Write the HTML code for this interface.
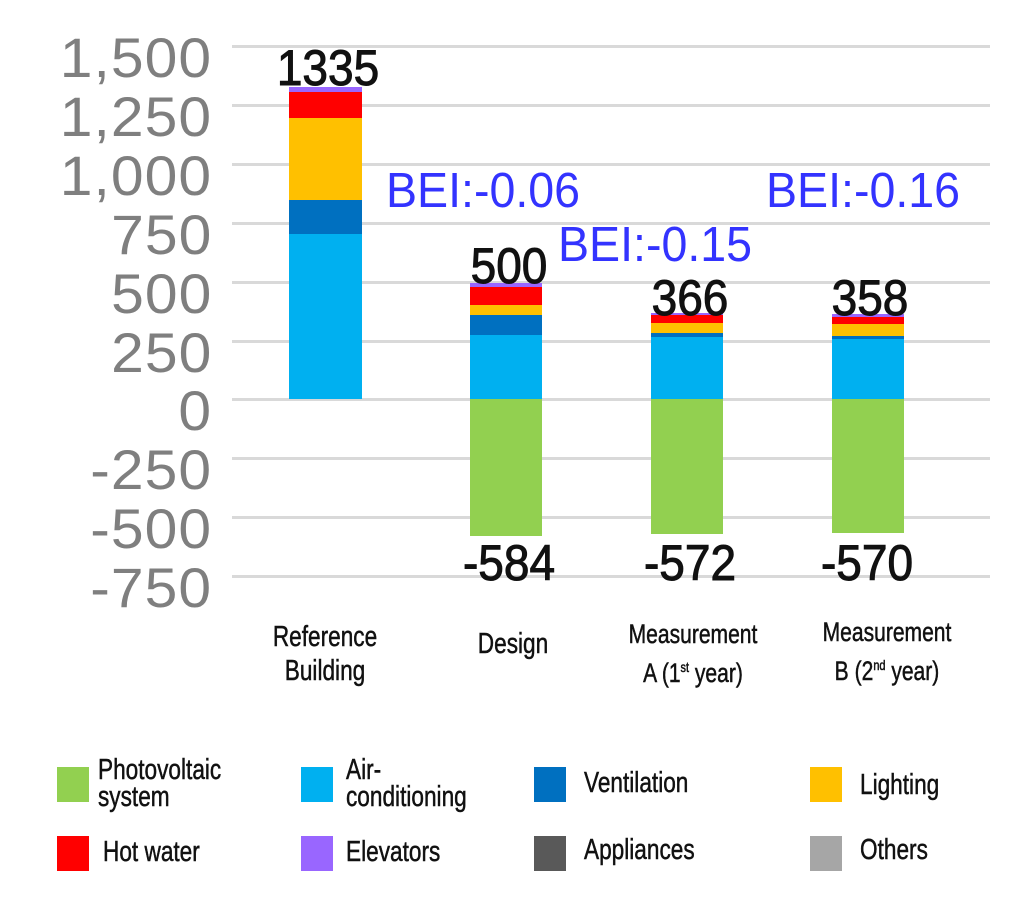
<!DOCTYPE html>
<html><head><meta charset="utf-8"><style>
body{margin:0;width:1024px;height:911px;background:#fff;position:relative;overflow:hidden;font-family:"Liberation Sans",sans-serif}
.g{position:absolute;left:232px;width:758px;height:3px;background:#d9d9d9}
.yl{position:absolute;right:812px;font-size:56px;color:#7f7f7f;line-height:1;letter-spacing:1px;transform:scaleX(1.05);transform-origin:right}
.r{position:absolute}
.v{position:absolute;font-size:50px;color:#111;width:140px;text-align:center;line-height:1;transform:scaleX(.92);-webkit-text-stroke:1px #111}
.bei{position:absolute;font-size:49px;color:#3333ff;line-height:1;transform:scaleX(.95);transform-origin:left}
.n{color:#111;position:absolute;font-size:29px;line-height:27px;transform:scaleX(.78);transform-origin:left top;white-space:nowrap;-webkit-text-stroke:.5px #111}
.c{text-align:center;width:230px;transform-origin:center top}
.sq{position:absolute;width:32px;height:35px}
</style></head><body>
<div class="g" style="top:45px"></div><div class="g" style="top:104px"></div><div class="g" style="top:163px"></div><div class="g" style="top:222px"></div><div class="g" style="top:281px"></div><div class="g" style="top:340px"></div><div class="g" style="top:398px"></div><div class="g" style="top:457px"></div><div class="g" style="top:516px"></div><div class="g" style="top:575px"></div>
<div class="yl" style="top:30px">1,500</div><div class="yl" style="top:89px">1,250</div><div class="yl" style="top:148px">1,000</div><div class="yl" style="top:207px">750</div><div class="yl" style="top:266px">500</div><div class="yl" style="top:325px">250</div><div class="yl" style="top:383px">0</div><div class="yl" style="top:442px">-250</div><div class="yl" style="top:501px">-500</div><div class="yl" style="top:560px">-750</div>
<div class="r" style="left:289px;width:73px;top:87px;height:5px;background:#9966ff"></div>
<div class="r" style="left:289px;width:73px;top:92px;height:26px;background:#ff0000"></div>
<div class="r" style="left:289px;width:73px;top:118px;height:82px;background:#ffc000"></div>
<div class="r" style="left:289px;width:73px;top:200px;height:34px;background:#0070c0"></div>
<div class="r" style="left:289px;width:73px;top:234px;height:165px;background:#00b0f0"></div>
<div class="r" style="left:470px;width:72px;top:283px;height:4px;background:#9966ff"></div>
<div class="r" style="left:470px;width:72px;top:287px;height:18px;background:#ff0000"></div>
<div class="r" style="left:470px;width:72px;top:305px;height:10px;background:#ffc000"></div>
<div class="r" style="left:470px;width:72px;top:315px;height:20px;background:#0070c0"></div>
<div class="r" style="left:470px;width:72px;top:335px;height:64px;background:#00b0f0"></div>
<div class="r" style="left:470px;width:72px;top:399px;height:137px;background:#92d050"></div>
<div class="r" style="left:651px;width:72px;top:313px;height:2px;background:#9966ff"></div>
<div class="r" style="left:651px;width:72px;top:315px;height:8px;background:#ff0000"></div>
<div class="r" style="left:651px;width:72px;top:323px;height:10px;background:#ffc000"></div>
<div class="r" style="left:651px;width:72px;top:333px;height:4px;background:#0070c0"></div>
<div class="r" style="left:651px;width:72px;top:337px;height:62px;background:#00b0f0"></div>
<div class="r" style="left:651px;width:72px;top:399px;height:135px;background:#92d050"></div>
<div class="r" style="left:832px;width:72px;top:314px;height:3px;background:#9966ff"></div>
<div class="r" style="left:832px;width:72px;top:317px;height:7px;background:#ff0000"></div>
<div class="r" style="left:832px;width:72px;top:324px;height:12px;background:#ffc000"></div>
<div class="r" style="left:832px;width:72px;top:336px;height:3px;background:#0070c0"></div>
<div class="r" style="left:832px;width:72px;top:339px;height:60px;background:#00b0f0"></div>
<div class="r" style="left:832px;width:72px;top:399px;height:134px;background:#92d050"></div>
<div class="v" style="left:258px;top:43px">1335</div>
<div class="v" style="left:439px;top:241px">500</div>
<div class="v" style="left:620px;top:273px">366</div>
<div class="v" style="left:800px;top:273px">358</div>
<div class="v" style="left:439px;top:538px">-584</div>
<div class="v" style="left:620px;top:538px">-572</div>
<div class="v" style="left:797px;top:538px">-570</div>
<div class="bei" style="left:386px;top:167px">BEI:-0.06</div>
<div class="bei" style="left:558px;top:221px">BEI:-0.15</div>
<div class="bei" style="left:766px;top:167px">BEI:-0.16</div>
<div class="n c" style="left:210px;top:620px;line-height:34px">Reference<br>Building</div>
<div class="n c" style="left:398px;top:631px">Design</div>
<div class="n c" style="left:578px;top:618px;font-size:27px;line-height:33px">Measurement<br>A (1<sup style="font-size:14px">st</sup> year)</div>
<div class="n c" style="left:772px;top:616px;font-size:27px;line-height:33px">Measurement<br>B (2<sup style="font-size:14px">nd</sup> year)</div>
<div class="sq" style="left:57px;top:767px;background:#92d050"></div><div class="n" style="left:98px;top:757px">Photovoltaic<br>system</div>
<div class="sq" style="left:301px;top:767px;background:#00b0f0"></div><div class="n" style="left:346px;top:757px">Air-<br>conditioning</div>
<div class="sq" style="left:534px;top:767px;background:#0070c0"></div><div class="n" style="left:584px;top:770px">Ventilation</div>
<div class="sq" style="left:810px;top:767px;background:#ffc000"></div><div class="n" style="left:860px;top:772px">Lighting</div>
<div class="sq" style="left:57px;top:836px;background:#ff0000"></div><div class="n" style="left:103px;top:839px">Hot water</div>
<div class="sq" style="left:301px;top:836px;background:#9966ff"></div><div class="n" style="left:346px;top:839px">Elevators</div>
<div class="sq" style="left:534px;top:836px;background:#595959"></div><div class="n" style="left:584px;top:837px">Appliances</div>
<div class="sq" style="left:810px;top:836px;background:#a6a6a6"></div><div class="n" style="left:860px;top:837px">Others</div>
</body></html>
